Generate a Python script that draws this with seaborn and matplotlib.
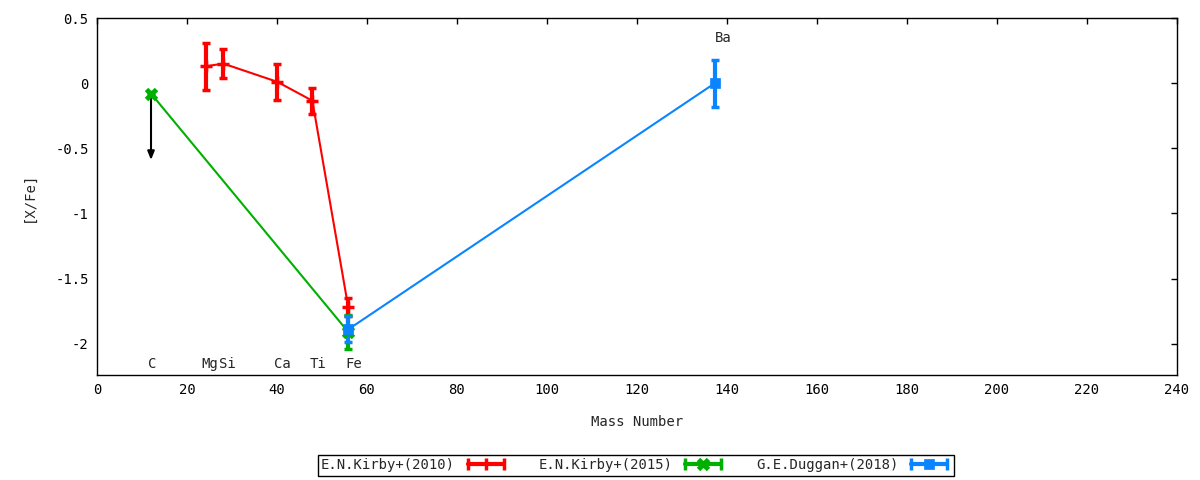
import numpy as np
import pandas as pd
import matplotlib
matplotlib.use("Agg")
import matplotlib.pyplot as plt
import seaborn as sns
from matplotlib.lines import Line2D
from matplotlib.legend_handler import HandlerLine2D, HandlerTuple

# Data
kirby10_mass = [24.305, 28.086, 40.078, 47.867, 55.845]
kirby10_xfe = [0.13, 0.15, 0.01, -0.135, -1.72]
kirby10_err = [0.18, 0.11, 0.14, 0.10, 0.07]

kirby15_mass = [12.011, 55.845]
kirby15_xfe = [-0.08, -1.91]
kirby15_err = [0.01, 0.13]

duggan18_mass = [55.845, 137.327]
duggan18_xfe = [-1.89, 0.0]
duggan18_err = [0.10, 0.18]

# C upper limit arrow
arrow_x = 12.011
arrow_from = -0.08
arrow_to = -0.59

elem_labels = ["C", "Mg", "Si", "Ca", "Ti", "Fe"]
elem_label_x = [12.2, 25.1, 29.0, 41.1, 49.1, 57.1]
elem_label_y = -2.153
ba_label = "Ba"
ba_label_x = 139.1
ba_label_y = 0.35

sources = ["E.N.Kirby+(2010)", "E.N.Kirby+(2015)", "G.E.Duggan+(2018)"]
colors = ["#ff0000", "#00b000", "#0a84ff"]
markers = ["+", "x", "s"]

df = pd.concat([
    pd.DataFrame({"mass": kirby10_mass, "xfe": kirby10_xfe, "err": kirby10_err, "source": sources[0]}),
    pd.DataFrame({"mass": kirby15_mass, "xfe": kirby15_xfe, "err": kirby15_err, "source": sources[1]}),
    pd.DataFrame({"mass": duggan18_mass, "xfe": duggan18_xfe, "err": duggan18_err, "source": sources[2]}),
], ignore_index=True)

sns.set_style("white")
plt.rcParams["font.family"] = ["DejaVu Sans Mono"]
fs = 10

fig = plt.figure(figsize=(12, 4.8), dpi=100)
ax = fig.add_axes([0.0808, 0.21875, 0.9, 0.74375])

sns.lineplot(data=df, x="mass", y="xfe", hue="source", palette=dict(zip(sources, colors)),
             sort=False, estimator=None, linewidth=1.5, legend=False, ax=ax)

mk_size = {"+": 9, "x": 7, "s": 7}
mk_edge = {"+": 2.5, "x": 3.5, "s": 0.5}
handles = []
for src, col, mk in zip(sources, colors, markers):
    sub = df[df["source"] == src]
    ax.errorbar(sub["mass"], sub["xfe"], yerr=sub["err"], fmt="none", ecolor=col,
                elinewidth=3, capsize=3, capthick=2.5, zorder=3)
    ax.plot(sub["mass"], sub["xfe"], linestyle="none", marker=mk, color=col,
            markersize=mk_size[mk], markeredgewidth=mk_edge[mk],
            markeredgecolor=col, zorder=4)
    caps = Line2D([], [], color=col, linewidth=3, marker="|", markersize=8, markeredgewidth=2.5)
    mid = Line2D([], [], color=col, linestyle="none", marker=mk if mk != "+" else "|",
                 markersize=mk_size[mk] if mk != "+" else 8, markeredgewidth=mk_edge[mk])
    handles.append((caps, mid))

ax.annotate("", xy=(arrow_x, arrow_to), xytext=(arrow_x, arrow_from),
            arrowprops=dict(arrowstyle="-|>,head_width=0.2,head_length=0.5",
                            color="black", lw=1.5, shrinkA=0, shrinkB=0), zorder=2)

for lab, lx in zip(elem_labels, elem_label_x):
    ax.text(lx, elem_label_y, lab, ha="center", va="center", fontsize=fs)
ax.text(ba_label_x, ba_label_y, ba_label, ha="center", va="center", fontsize=fs)

ax.set_xlim(0, 240)
ax.set_ylim(-2.24, 0.5)
ax.set_xticks(np.arange(0, 241, 20))
ax.set_yticks([0.5, 0, -0.5, -1, -1.5, -2])
ax.set_yticklabels(["0.5", "0", "-0.5", "-1", "-1.5", "-2"])
ax.tick_params(direction="in", length=4, width=1, top=True, right=True,
               labelsize=fs, pad=6, colors="black")
for sp in ax.spines.values():
    sp.set_visible(True)
    sp.set_color("black")
    sp.set_linewidth(1)
ax.set_xlabel("Mass Number", fontsize=fs, labelpad=13)
ax.set_ylabel("[X/Fe]", fontsize=fs, labelpad=14)

hmap = {}
for caps, mid in handles:
    hmap[caps] = HandlerLine2D(numpoints=2)
    hmap[mid] = HandlerLine2D(numpoints=1)
leg = fig.legend(handles, sources, loc="center", bbox_to_anchor=(0.53, 0.031),
                 ncol=3, markerfirst=False, frameon=True, fancybox=False,
                 edgecolor="black", framealpha=1, fontsize=fs, handlelength=3.2,
                 columnspacing=2.2, handletextpad=0.6, borderpad=0.25, borderaxespad=0,
                 handler_map={tuple: HandlerTuple(ndivide=1), **hmap})
leg.get_frame().set_linewidth(1)

fig.savefig("out.png", dpi=100)
